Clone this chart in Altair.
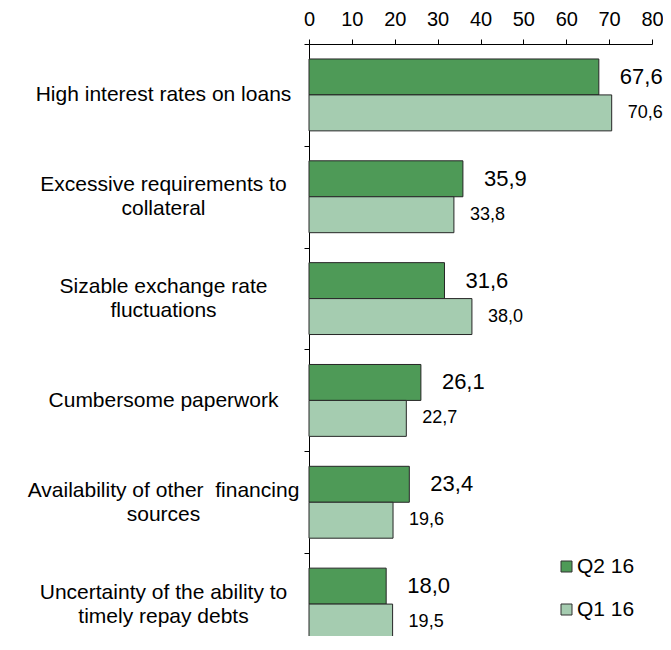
import altair as alt
import pandas as pd

categories = [
    "High interest rates on loans",
    "Excessive requirements to|collateral",
    "Sizable exchange rate|fluctuations",
    "Cumbersome paperwork",
    "Availability of other\u00a0 financing|sources",
    "Uncertainty of the ability to|timely repay debts",
]
series_names = ["Q2 16", "Q1 16"]
q2_values = [67.6, 35.9, 31.6, 26.1, 23.4, 18.0]
q1_values = [70.6, 33.8, 38.0, 22.7, 19.6, 19.5]
x_ticks = [0, 10, 20, 30, 40, 50, 60, 70, 80]

rows = []
for c, a, b in zip(categories, q2_values, q1_values):
    rows.append({"category": c, "series": "Q2 16", "value": a})
    rows.append({"category": c, "series": "Q1 16", "value": b})
df = pd.DataFrame(rows)

FONT = "Liberation Sans"
Y_RANGE = 611
STEP = Y_RANGE / len(categories)
LINE_H = 24

y_enc = alt.Y(
    "category:N",
    sort=categories,
    title=None,
    scale=alt.Scale(paddingInner=0.294, paddingOuter=0.147, range=[0, Y_RANGE]),
    axis=alt.Axis(
        labelExpr="split(datum.label, '|')",
        labelAlign="center",
        labelBaseline="middle",
        labelPadding=141,
        labelFontSize=21,
        labelLineHeight=LINE_H,
        labelFont=FONT,
        labelColor="#000000",
        tickOffset=-STEP / 2,
        labelOffset={
            "condition": {"test": "indexof(datum.value, '|') >= 0", "value": STEP / 2 - LINE_H / 2},
            "value": STEP / 2,
        },
        tickSize=5,
        tickColor="#000000",
        domainColor="#000000",
        labelLimit=400,
    ),
)
yoff_enc = alt.YOffset("series:N", sort=series_names, scale=alt.Scale(paddingInner=0, paddingOuter=0))
x_enc = alt.X(
    "value:Q",
    title=None,
    scale=alt.Scale(domain=[0, 80], nice=False),
    axis=alt.Axis(
        orient="top",
        values=x_ticks,
        labelFontSize=20,
        labelFont=FONT,
        labelColor="#000000",
        tickSize=5,
        tickColor="#000000",
        domainColor="#000000",
        labelPadding=10,
        grid=False,
        labelFlush=False,
    ),
)

base = alt.Chart(df).encode(y=y_enc, yOffset=yoff_enc)

bars = base.mark_bar(stroke="#262626", strokeWidth=1).encode(
    x=x_enc,
    color=alt.Color(
        "series:N",
        sort=series_names,
        scale=alt.Scale(domain=series_names, range=["#4E9A57", "#A5CCB0"]),
        legend=alt.Legend(
            title=None,
            orient="none",
            legendX=247,
            legendY=512,
            symbolType="square",
            symbolSize=121,
            symbolStrokeColor="#333333",
            symbolStrokeWidth=1,
            labelFontSize=21,
            labelFont=FONT,
            labelColor="#000000",
            rowPadding=21,
            labelOffset=0,
        ),
    ),
)

txt = base.transform_calculate(
    label="replace(format(datum.value, '.1f'), '.', ',')"
)
labels_q2 = txt.transform_filter("datum.series == 'Q2 16'").mark_text(
    align="left", baseline="middle", dx=21, fontSize=22, font=FONT, color="#000000"
).encode(x="value:Q", text="label:N")
labels_q1 = txt.transform_filter("datum.series == 'Q1 16'").mark_text(
    align="left", baseline="middle", dx=16, fontSize=18, font=FONT, color="#000000"
).encode(x="value:Q", text="label:N")

chart = (
    alt.layer(bars, labels_q2, labels_q1)
    .properties(
        width=343,
        height=592,
        autosize=alt.AutoSizeParams(type="none"),
        padding={"left": 301, "top": 36, "right": 11, "bottom": 0},
    )
    .configure_view(stroke=None)
)

chart.save("out.html", embed_options={"renderer": "svg", "actions": False})
